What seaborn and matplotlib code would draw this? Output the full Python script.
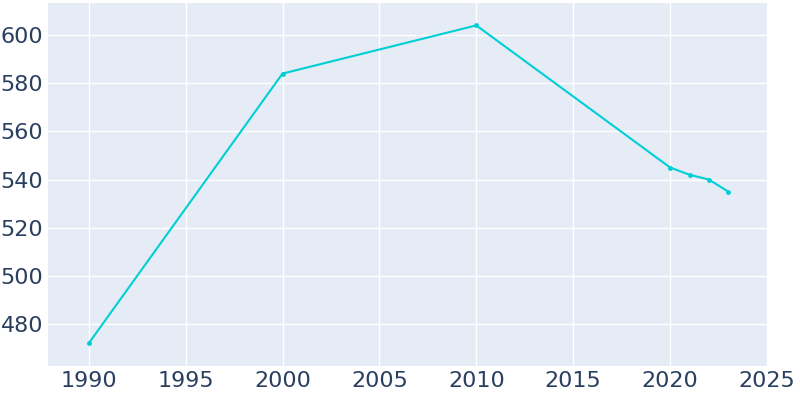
import matplotlib
matplotlib.use("Agg")
import matplotlib.pyplot as plt
import seaborn as sns
import pandas as pd

years = [1990, 2000, 2010, 2020, 2021, 2022, 2023]
population = [472, 584, 604, 545, 542, 540, 535]

df = pd.DataFrame({"year": years, "population": population})

sns.set_theme(style="darkgrid", rc={
    "axes.facecolor": "#e5ecf6",
    "grid.color": "white",
    "grid.linewidth": 1.0,
})
plt.rcParams['font.family'] = ['DejaVu Sans']

fig = plt.figure(figsize=(8, 4), dpi=100)
ax = fig.add_axes([0.06, 0.085, 0.9, 0.9075])
sns.lineplot(data=df, x="year", y="population", ax=ax, color="#00cfd5",
             linewidth=1.5, marker="o", markersize=3.5, markeredgewidth=0)

ax.set_xlim(1987.9, 2025.05)
ax.set_ylim(462.6, 613.3)
ax.set_xticks(range(1990, 2026, 5))
ax.set_yticks(range(480, 601, 20))
ax.set_xlabel("")
ax.set_ylabel("")
ax.tick_params(labelsize=16, colors="#2a3f5f", length=0)
for s in ax.spines.values():
    s.set_visible(False)

fig.savefig("out.png", dpi=100)
